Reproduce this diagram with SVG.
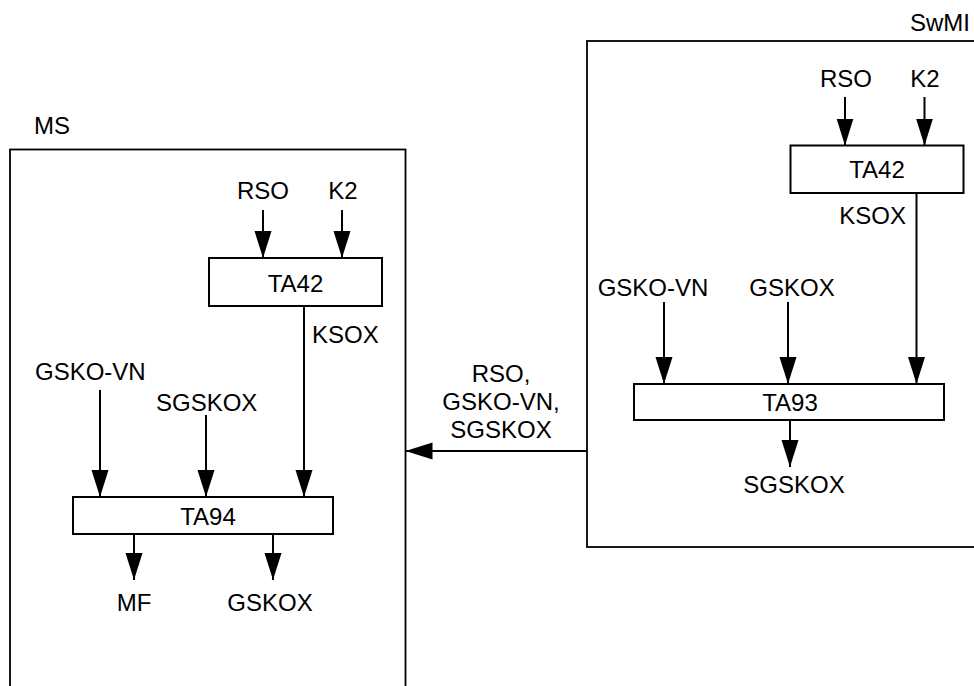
<svg xmlns="http://www.w3.org/2000/svg" width="974" height="686" viewBox="0 0 974 686">
<style>
text{font-family:"Liberation Sans",Arial,sans-serif;font-size:24px;fill:#000}
.c{text-anchor:middle}
.e{text-anchor:end}
.box{fill:#fff;stroke:#000;stroke-width:2}
.frame{fill:none;stroke:#000;stroke-width:1.8}
.ln{stroke:#000;stroke-width:2;fill:none}
.ar{stroke:#000;stroke-width:2;fill:none;marker-end:url(#ah)}
</style>
<defs>
<marker id="ah" markerUnits="userSpaceOnUse" markerWidth="28" markerHeight="18" refX="27" refY="8.5" orient="auto">
<path d="M0,0 L27,8.5 L0,17 z" fill="#000"/>
</marker>
</defs>
<g id="ms">
<rect class="frame" x="10" y="149.5" width="395.5" height="560"/>
<text x="34" y="134">MS</text>
</g>
<g id="swmi">
<rect class="frame" x="587" y="41" width="420" height="506"/>
<text class="e" x="970" y="31">SwMI</text>
</g>
<g id="ms-ta42">
<rect class="box" x="209" y="258" width="173" height="48"/>
<text class="c" x="295.5" y="292">TA42</text>
</g>
<g id="ms-ta94">
<rect class="box" x="73" y="497" width="260" height="37"/>
<text class="c" x="208" y="525">TA94</text>
</g>
<g id="sw-ta42">
<rect class="box" x="790.5" y="145.5" width="173" height="47.5"/>
<text class="c" x="877" y="178">TA42</text>
</g>
<g id="sw-ta93">
<rect class="box" x="634" y="384" width="310" height="36"/>
<text class="c" x="790" y="411">TA93</text>
</g>
<g id="labels">
<text class="c" x="263" y="199">RSO</text>
<text class="c" x="343" y="199">K2</text>
<text x="312" y="343">KSOX</text>
<text x="35" y="380">GSKO-VN</text>
<text x="156" y="411">SGSKOX</text>
<text class="c" x="134" y="611">MF</text>
<text class="c" x="270" y="611">GSKOX</text>
<text class="c" x="846" y="87">RSO</text>
<text class="c" x="925" y="87">K2</text>
<text class="e" x="906" y="224">KSOX</text>
<text class="c" x="653" y="296">GSKO-VN</text>
<text class="c" x="792" y="296">GSKOX</text>
<text class="c" x="794" y="493">SGSKOX</text>
<text class="c" x="501" y="382">RSO,</text>
<text class="c" x="501" y="410">GSKO-VN,</text>
<text class="c" x="501" y="438">SGSKOX</text>
</g>
<g id="connectors">
<line class="ar" x1="263" y1="210" x2="263" y2="258"/>
<line class="ar" x1="342" y1="210" x2="342" y2="258"/>
<line class="ar" x1="304" y1="306" x2="304" y2="497"/>
<line class="ar" x1="100" y1="390" x2="100" y2="497"/>
<line class="ar" x1="206" y1="415" x2="206" y2="497"/>
<line class="ar" x1="134" y1="534" x2="134" y2="580"/>
<line class="ar" x1="273" y1="534" x2="273" y2="580"/>
<line class="ar" x1="845" y1="97" x2="845" y2="145.5"/>
<line class="ar" x1="924.5" y1="97" x2="924.5" y2="145.5"/>
<line class="ar" x1="916.5" y1="193" x2="916.5" y2="384"/>
<line class="ar" x1="664" y1="302" x2="664" y2="384"/>
<line class="ar" x1="788" y1="302" x2="788" y2="384"/>
<line class="ar" x1="790" y1="420" x2="790" y2="467"/>
<line class="ar" x1="587" y1="451" x2="405.5" y2="451"/>
</g>
</svg>
